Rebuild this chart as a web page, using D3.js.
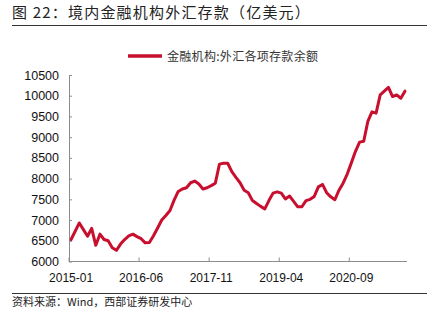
<!DOCTYPE html>
<html>
<head>
<meta charset="utf-8">
<script src="https://cdn.jsdelivr.net/npm/d3@7/dist/d3.min.js"></script>
<style>
  html, body { margin: 0; padding: 0; background: #fff; }
  svg { display: block; }
</style>
</head>
<body>
<svg id="chart" width="437" height="322"></svg>
<script>
// Monthly FX deposits of domestic financial institutions, 2015-01 .. 2021-10 (100 million USD)
const startYear = 2015;
const startMonth = 1;
const deposits = [
  6530, 6730, 6930, 6770, 6610, 6800, 6390, 6660, 6530, 6500, 6330, 6270,
  6420, 6530, 6620, 6660, 6600, 6550, 6450, 6460, 6620, 6810, 7000, 7110,
  7230, 7480, 7690, 7750, 7780, 7900, 7940, 7870, 7750, 7780, 7830, 7890,
  8350, 8370, 8370, 8170, 8030, 7900, 7720, 7660, 7470, 7400, 7330, 7270,
  7470, 7650, 7680, 7650, 7510, 7580, 7450, 7320, 7320, 7470, 7500, 7570,
  7800, 7860, 7660, 7560, 7490, 7720, 7890, 8110, 8380, 8660, 8880, 8900,
  9380, 9610, 9580, 10020, 10110, 10200, 9980, 10020, 9940, 10110
];
const months = deposits.map((_, i) => {
  const m = startMonth - 1 + i;
  const y = startYear + Math.floor(m / 12);
  return `${y}-${String(m % 12 + 1).padStart(2, "0")}`;
});
const xTickLabels = ["2015-01", "2016-06", "2017-11", "2019-04", "2020-09"];
const yTicks = [6000, 6500, 7000, 7500, 8000, 8500, 9000, 9500, 10000, 10500];
const seriesName = "金融机构:外汇各项存款余额";
const titleText = "图 22：境内金融机构外汇存款（亿美元）";
const sourceText = "资料来源：Wind，西部证券研发中心";

const svg = d3.select("#chart");
const cjk = "'Noto Sans CJK SC', 'Noto Sans', sans-serif";
const latin = "'Liberation Sans', Arial, sans-serif";
const red = "#c8102e";
const axisGrey = "#8c8c8c";

const plot = { left: 69, right: 407, top: 75, bottom: 261.5 };

const x = d3.scaleBand().domain(months).range([plot.left, plot.right]).paddingInner(0).paddingOuter(0);
const y = d3.scaleLinear().domain([6000, 10500]).range([plot.bottom, plot.top]);

// Title and rule
svg.append("text")
  .attr("x", 12).attr("y", 18)
  .attr("font-family", cjk).attr("font-size", 15).attr("fill", "#222")
  .attr("letter-spacing", 1.2)
  .text(titleText);
svg.append("line")
  .attr("x1", 12).attr("x2", 427).attr("y1", 25.5).attr("y2", 25.5)
  .attr("stroke", "#333").attr("stroke-width", 1);

// Legend
svg.append("line")
  .attr("x1", 128).attr("x2", 162).attr("y1", 56).attr("y2", 56)
  .attr("stroke", red).attr("stroke-width", 3.5);
svg.append("text")
  .attr("x", 167).attr("y", 60.5)
  .attr("font-family", cjk).attr("font-size", 12).attr("fill", "#333")
  .attr("letter-spacing", 0.3)
  .text(seriesName);

// Y axis
const yAxis = d3.axisLeft(y).tickValues(yTicks).tickSize(0).tickPadding(10).tickFormat(d3.format("d"));
const gy = svg.append("g").attr("transform", `translate(${plot.left},0)`).call(yAxis);
gy.select(".domain").attr("stroke", axisGrey);
gy.selectAll(".tick text").attr("font-family", latin).attr("font-size", 12.5).attr("fill", "#111");
gy.selectAll(".tick").append("line")
  .attr("x1", 0).attr("x2", 3).attr("stroke", axisGrey);

// X axis: ticks on the band boundaries, labels at band centres
const tickIdx = xTickLabels.map(l => months.indexOf(l));
const gx = svg.append("g").attr("transform", `translate(0,${plot.bottom})`);
gx.append("line")
  .attr("x1", plot.left).attr("x2", plot.right)
  .attr("stroke", axisGrey);
gx.selectAll("line.tk").data(tickIdx).join("line").attr("class", "tk")
  .attr("x1", i => x(months[i])).attr("x2", i => x(months[i]))
  .attr("y1", 0).attr("y2", -4).attr("stroke", axisGrey);
gx.selectAll("text").data(tickIdx).join("text")
  .attr("x", i => x(months[i]) + x.bandwidth() / 2)
  .attr("y", 20)
  .attr("text-anchor", "middle")
  .attr("font-family", latin).attr("font-size", 12).attr("fill", "#111")
  .text(i => months[i]);

// Series line
const line = d3.line()
  .x((d, i) => x(months[i]) + x.bandwidth() / 2)
  .y(d => y(d));
svg.append("path")
  .datum(deposits)
  .attr("d", line)
  .attr("fill", "none")
  .attr("stroke", red)
  .attr("stroke-width", 3)
  .attr("stroke-linejoin", "round")
  .attr("stroke-linecap", "round");

// Source note
svg.append("line")
  .attr("x1", 12).attr("x2", 427).attr("y1", 293.5).attr("y2", 293.5)
  .attr("stroke", "#333").attr("stroke-width", 1);
svg.append("text")
  .attr("x", 12).attr("y", 306)
  .attr("font-family", cjk).attr("font-size", 11).attr("fill", "#222")
  .text(sourceText);
</script>
</body>
</html>
